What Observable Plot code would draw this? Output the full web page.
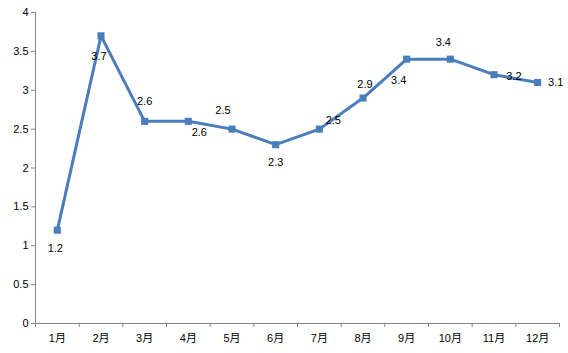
<!DOCTYPE html>
<html>
<head>
<meta charset="utf-8">
<script src="https://cdn.jsdelivr.net/npm/d3@7"></script>
<script src="https://cdn.jsdelivr.net/npm/@observablehq/plot@0.6"></script>
<style>
  html, body { margin: 0; padding: 0; background: #fff; }
  #chart svg { display: block; }
</style>
</head>
<body>
<div id="chart"></div>
<script>
const months = ["1月","2月","3月","4月","5月","6月","7月","8月","9月","10月","11月","12月"];
const values = [1.2, 3.7, 2.6, 2.6, 2.5, 2.3, 2.5, 2.9, 3.4, 3.4, 3.2, 3.1];
const yTicks = [0, 0.5, 1, 1.5, 2, 2.5, 3, 3.5, 4];
// data label placement offsets (style, in px)
const labelDx = [-2, -2, 0, 11, -9, 0, 14, 2, -8, -7, 20, 18];
const labelDy = [18, 21, -20, 11, -19, 18, -9, -14, 21, -17, 2, 0];

const data = months.map((m, i) => ({idx: i + 1, month: m, value: values[i], dx: labelDx[i], dy: labelDy[i]}));
const lineColor = "#4a7ebb";
const axisColor = "#868686";

const chart = Plot.plot({
  width: 568,
  height: 353,
  marginLeft: 35,
  marginRight: 9,
  marginTop: 12,
  marginBottom: 30,
  style: {fontFamily: "'Liberation Sans', 'Noto Sans CJK SC', sans-serif", fontSize: "11px", color: "#000", background: "#fff"},
  x: {domain: [0.5, 12.5], label: null},
  y: {domain: [0, 4], label: null},
  marks: [
    Plot.ruleX([0.5], {stroke: axisColor, strokeWidth: 1}),
    Plot.ruleY([0], {stroke: axisColor, strokeWidth: 1}),
    Plot.axisY({ticks: yTicks, tickSize: 4, tickPadding: 3, stroke: axisColor, tickFormat: d => String(d), fill: "#000", fontSize: 11, label: null}),
    Plot.axisX({ticks: d3.range(0.5, 13, 1), tickSize: 4, stroke: axisColor, tickFormat: () => "", label: null}),
    Plot.axisX({ticks: d3.range(1, 13), tickSize: 0, tickPadding: 11, tickFormat: i => months[i - 1], fill: "#000", fontSize: 11, label: null}),
    Plot.line(data, {x: "idx", y: "value", stroke: lineColor, strokeWidth: 3, strokeLinejoin: "round"}),
    Plot.dot(data, {x: "idx", y: "value", symbol: "square", r: 4, fill: lineColor, stroke: "none"}),
    ...data.map(d => Plot.text([d], {x: "idx", y: "value", text: v => String(v.value), dx: d.dx, dy: d.dy, fill: "#000", fontSize: 11}))
  ]
});
document.getElementById("chart").appendChild(chart);
</script>
</body>
</html>
